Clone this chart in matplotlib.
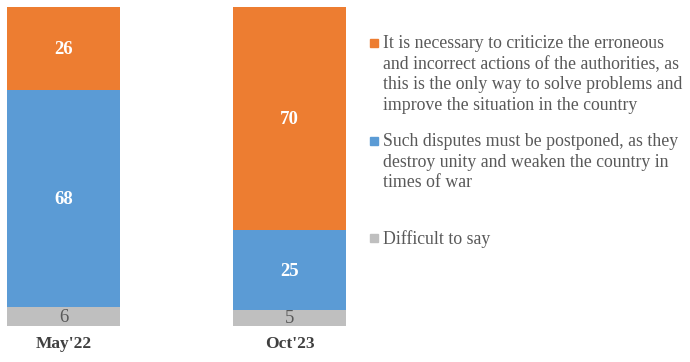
import matplotlib.pyplot as plt
from matplotlib.patches import Rectangle

plt.rcParams['font.family'] = ['Liberation Serif', 'DejaVu Serif']

periods = ["May'22", "Oct'23"]
difficult = [6, 5]
postpone = [68, 25]
criticize = [26, 70]

legend_labels = [
    "It is necessary to criticize the erroneous\nand incorrect actions of the authorities, as\n"
    "this is the only way to solve problems and\nimprove the situation in the country",
    "Such disputes must be postponed, as they\ndestroy unity and weaken the country in\ntimes of war",
    "Difficult to say",
]

ORANGE = '#ED7D31'
BLUE = '#5B9BD5'
GRAY = '#BFBFBF'
TEXT = '#595959'

W, H = 690, 362
fig = plt.figure(figsize=(W / 100, H / 100), dpi=100)
ax = fig.add_axes([7 / W, (H - 326) / H, (346 - 7) / W, (326 - 7) / H])

x = list(range(len(periods)))
b_gray = ax.bar(x, difficult, width=0.5, color=GRAY)
b_blue = ax.bar(x, postpone, width=0.5, bottom=difficult, color=BLUE)
bottoms = [d + p for d, p in zip(difficult, postpone)]
b_orange = ax.bar(x, criticize, width=0.5, bottom=bottoms, color=ORANGE)

labels = ax.bar_label(b_gray, label_type='center', color=TEXT, fontsize=13.5)
labels += ax.bar_label(b_blue, label_type='center', color='white', fontsize=13.5, fontweight='bold')
labels += ax.bar_label(b_orange, label_type='center', color='white', fontsize=13.5, fontweight='bold')
for t in labels:
    t.set_y(t.get_position()[1] - 0.7)

ax.set_xlim(-0.25, 1.25)
ax.set_ylim(0, 100)
ax.axis('off')

for xi, name in zip(x, periods):
    ax.text(xi, -5.5, name, ha='center', va='center', fontsize=12.5,
            fontweight='bold', color='#404040', clip_on=False)

# legend drawn by hand so the markers sit beside the first line
colors = [ORANGE, BLUE, GRAY]
tops = [43, 141, 238]
for col, top, label in zip(colors, tops, legend_labels):
    fig.patches.append(Rectangle((370 / W, (H - top - 4) / H), 8 / W, 8 / H,
                                 transform=fig.transFigure, color=col))
    fig.text(383 / W, (H - top + 8) / H, label, ha='left', va='top',
             fontsize=12.75, color=TEXT, linespacing=1.28)

fig.savefig('out.png', dpi=100)
